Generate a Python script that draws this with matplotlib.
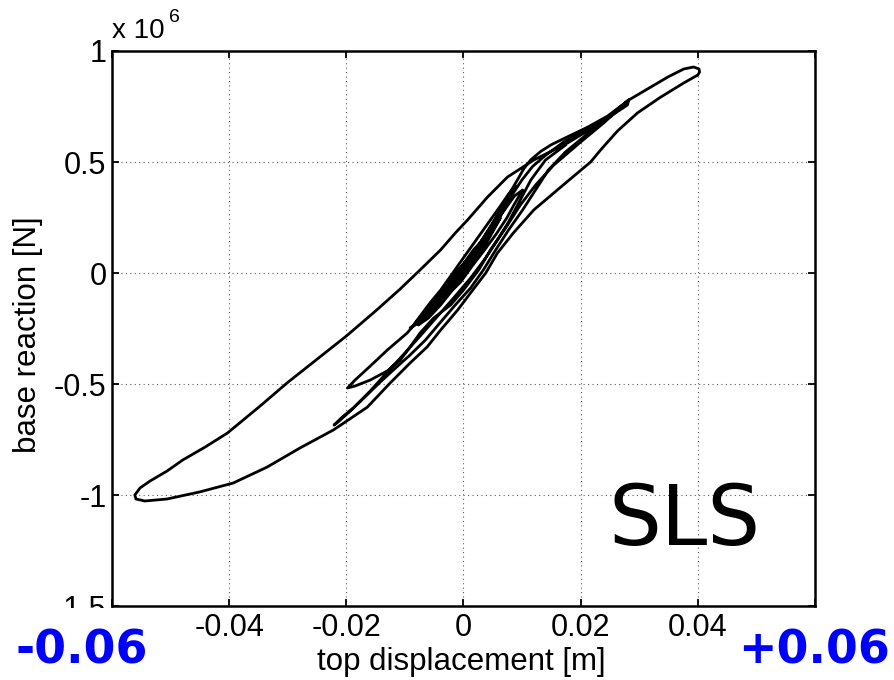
import numpy as np
import matplotlib
matplotlib.use("Agg")
import matplotlib.pyplot as plt
from matplotlib.patches import Rectangle

plt.rcParams['font.family'] = ['Liberation Sans', 'DejaVu Sans']

# displacement [m] / base reaction [x 1e6 N], read off the picture branch by branch
# dense small cycles round the origin
wiggle_x = [0.0, 0.0012, 0.0026, 0.0039, 0.0053, 0.0067, 0.0080, 0.0089, 0.0077, 0.0063,
            0.0046, 0.0029, 0.0012, -0.0005, -0.0022, -0.0039, -0.0056, -0.0074, -0.0084, -0.0067,
            -0.0046, -0.0026, -0.0005, 0.0015, 0.0036, 0.0056, 0.0074, 0.0087, 0.0101, 0.0087,
            0.0070, 0.0053, 0.0032, 0.0012, -0.0009, -0.0029, -0.0046, -0.0063, -0.0077, -0.0060,
            -0.0039, -0.0019, 0.0]
wiggle_y = [0.005, 0.050, 0.104, 0.158, 0.212, 0.275, 0.338, 0.392, 0.356, 0.302,
            0.239, 0.176, 0.113, 0.050, -0.014, -0.077, -0.131, -0.194, -0.230, -0.203,
            -0.149, -0.095, -0.041, 0.032, 0.104, 0.176, 0.248, 0.311, 0.374, 0.347,
            0.284, 0.221, 0.149, 0.077, 0.014, -0.059, -0.113, -0.167, -0.212, -0.185,
            -0.131, -0.068, -0.005]

# more small cycles, then up to the inner peak
start_x = [0.0021, 0.0043, 0.0063, 0.0046, 0.0026, 0.0005, -0.0019, -0.0039, -0.0060,
           -0.0077, -0.0065, -0.0043, -0.0022, -0.0002, 0.0019, 0.0039, 0.0058, 0.0075, 0.0060,
           0.0039, 0.0017, -0.0009, -0.0031, -0.0053, -0.0074, -0.0091, -0.0070, -0.0046, -0.0022,
           0.0003, 0.0026, 0.0046, 0.0063, 0.0080, 0.0094, 0.0103, 0.0115, 0.0132, 0.0150,
           0.0171, 0.0212, 0.0246, 0.0282]
start_y = [0.081, 0.162, 0.248, 0.167, 0.077, 0.005, -0.077, -0.144, -0.203,
           -0.234, -0.198, -0.122, -0.063, 0.014, 0.095, 0.180, 0.261, 0.338, 0.266,
           0.176, 0.077, -0.023, -0.099, -0.167, -0.221, -0.248, -0.203, -0.122, -0.050,
           0.050, 0.126, 0.203, 0.284, 0.365, 0.428, 0.470, 0.510, 0.548, 0.578,
           0.605, 0.657, 0.707, 0.779]

# inner peak -> first negative tip (-0.02, -0.52)
down1_x = [0.0239, 0.0200, 0.0154, 0.0123, 0.0097, 0.0072, 0.0046, 0.0026, 0.0, -0.0022,
           -0.0051, -0.0074, -0.0091, -0.0108, -0.0130, -0.0159, -0.0185, -0.0198]
down1_y = [0.675, 0.590, 0.486, 0.396, 0.306, 0.203, 0.104, 0.014, -0.077, -0.144,
           -0.203, -0.270, -0.333, -0.392, -0.441, -0.482, -0.509, -0.518]

# back up to the inner peak
up1_x = [-0.0185, -0.0159, -0.0130, -0.0096, -0.0056, -0.0022, 0.0017, 0.0046, 0.0072, 0.0085,
         0.0100, 0.0118, 0.0140, 0.0171, 0.0212, 0.0246, 0.0282]
up1_y = [-0.482, -0.419, -0.347, -0.270, -0.144, -0.041, 0.104, 0.185, 0.306, 0.360,
         0.420, 0.480, 0.530, 0.590, 0.645, 0.700, 0.779]

# the big cycle: +0.04 peak, -0.056 peak, back to the inner peak
outer_x = [0.0320, 0.0349, 0.0376, 0.0393, 0.0402, 0.0403, 0.0400, 0.0376, 0.0337, 0.0297,
           0.0263, 0.0234, 0.0217, 0.0166, 0.0120, 0.0085, 0.0058, 0.0038, 0.0012, -0.0010,
           -0.0039, -0.0062, -0.0091, -0.0125, -0.0164, -0.0222, -0.0279, -0.0335, -0.0393, -0.0450,
           -0.0506, -0.0544, -0.0559, -0.0561, -0.0552, -0.0535, -0.0506, -0.0479, -0.0441, -0.0403,
           -0.0347, -0.0301, -0.0256, -0.0200, -0.0150, -0.0108, -0.0074, -0.0039, -0.0014, 0.0007,
           0.0041, 0.0075, 0.0120, 0.0178, 0.0234, 0.0280]
outer_y = [0.838, 0.883, 0.919, 0.928, 0.919, 0.905, 0.892, 0.856, 0.793, 0.721,
           0.640, 0.554, 0.500, 0.387, 0.284, 0.180, 0.090, 0.0, -0.090, -0.167,
           -0.257, -0.333, -0.405, -0.495, -0.604, -0.707, -0.788, -0.874, -0.946, -0.986,
           -1.018, -1.027, -1.018, -1.000, -0.968, -0.937, -0.892, -0.842, -0.784, -0.721,
           -0.599, -0.495, -0.401, -0.284, -0.171, -0.072, 0.014, 0.104, 0.180, 0.239,
           0.342, 0.432, 0.509, 0.586, 0.676, 0.757]

# inner peak -> second negative tip (-0.022, -0.685)
down2_x = [0.0282, 0.0243, 0.0209, 0.0174, 0.0145, 0.0123, 0.0101, 0.0077, 0.0055, 0.0034,
           0.0012, -0.0014, -0.0039, -0.0065, -0.0091, -0.0116, -0.0142, -0.0168, -0.0193, -0.0214,
           -0.0221]
down2_y = [0.779, 0.689, 0.621, 0.545, 0.464, 0.374, 0.284, 0.194, 0.104, 0.014,
           -0.068, -0.144, -0.221, -0.302, -0.369, -0.428, -0.491, -0.558, -0.621, -0.671,
           -0.685]

# last rise
up2_x = [-0.0207, -0.0188, -0.0159, -0.0130, -0.0103, -0.0074, -0.0044, -0.0017, 0.0012, 0.0038,
         0.0058, 0.0077, 0.0097, 0.0115, 0.0140, 0.0174]
up2_y = [-0.649, -0.608, -0.531, -0.446, -0.369, -0.284, -0.194, -0.113, -0.023, 0.068,
         0.149, 0.230, 0.329, 0.419, 0.509, 0.576]

x_ticks = [-0.06, -0.04, -0.02, 0, 0.02, 0.04, 0.06]
x_labels = ['', '-0.04', '-0.02', '0', '0.02', '0.04', '']
y_ticks = [-1.5, -1, -0.5, 0, 0.5, 1]
y_labels = ['-1.5', '-1', '-0.5', '0', '0.5', '1']

disp = np.concatenate([wiggle_x, start_x, down1_x, up1_x, outer_x, down2_x, up2_x])
force = np.concatenate([wiggle_y, start_y, down1_y, up1_y, outer_y, down2_y, up2_y])

fig = plt.figure(figsize=(8.95, 6.8), dpi=100)
ax = fig.add_axes([0.1251, 0.1088, 0.7855, 0.8162])

ax.plot(disp, force, color='k', linewidth=2.0, solid_joinstyle='round')

ax.set_xlim(-0.06, 0.06)
ax.set_ylim(-1.5, 1.0)
ax.set_xticks(x_ticks)
ax.set_xticklabels(x_labels)
ax.set_yticks(y_ticks)
ax.set_yticklabels(y_labels)
ax.tick_params(direction='in', length=5, width=1.3, labelsize=22,
               top=True, right=True)
ax.tick_params(axis='x', pad=5)
ax.tick_params(axis='y', pad=4)
ax.grid(True, color='0.35', linewidth=0.8, linestyle=(0, (1, 3)))
for s in ax.spines.values():
    s.set_linewidth(1.8)

fig.text(461 / 895, 1 - 662 / 680, 'top displacement [m]', fontsize=22.5,
         ha='center', va='center')
fig.text(28 / 895, 1 - 335 / 680, 'base reaction [N]', fontsize=22.5,
         rotation=90, ha='center', va='center')
ax.text(0.0, 1.012, 'x 10', transform=ax.transAxes, fontsize=20,
        ha='left', va='bottom')
ax.text(0.081, 1.045, '6', transform=ax.transAxes, fontsize=14,
        ha='left', va='bottom')

ax.text(0.815, 0.11, 'SLS', transform=ax.transAxes, fontsize=60,
        family='DejaVu Sans', ha='center', va='baseline')

# white band that hides the lower half of the -1.5 label
fig.add_artist(Rectangle((0, 0), 112 / 895, 1 - 608 / 680, transform=fig.transFigure,
                         facecolor='white', edgecolor='none', zorder=10))

fig.text(15 / 895, 1 - 651 / 680, '-0.06', fontsize=33, fontweight='bold',
         family='DejaVu Sans', color='#0000ff', ha='left', va='center', zorder=11)
fig.text(890 / 895, 1 - 651 / 680, '+0.06', fontsize=33, fontweight='bold',
         family='DejaVu Sans', color='#0000ff', ha='right', va='center', zorder=11)

fig.savefig('out.png', dpi=100)
